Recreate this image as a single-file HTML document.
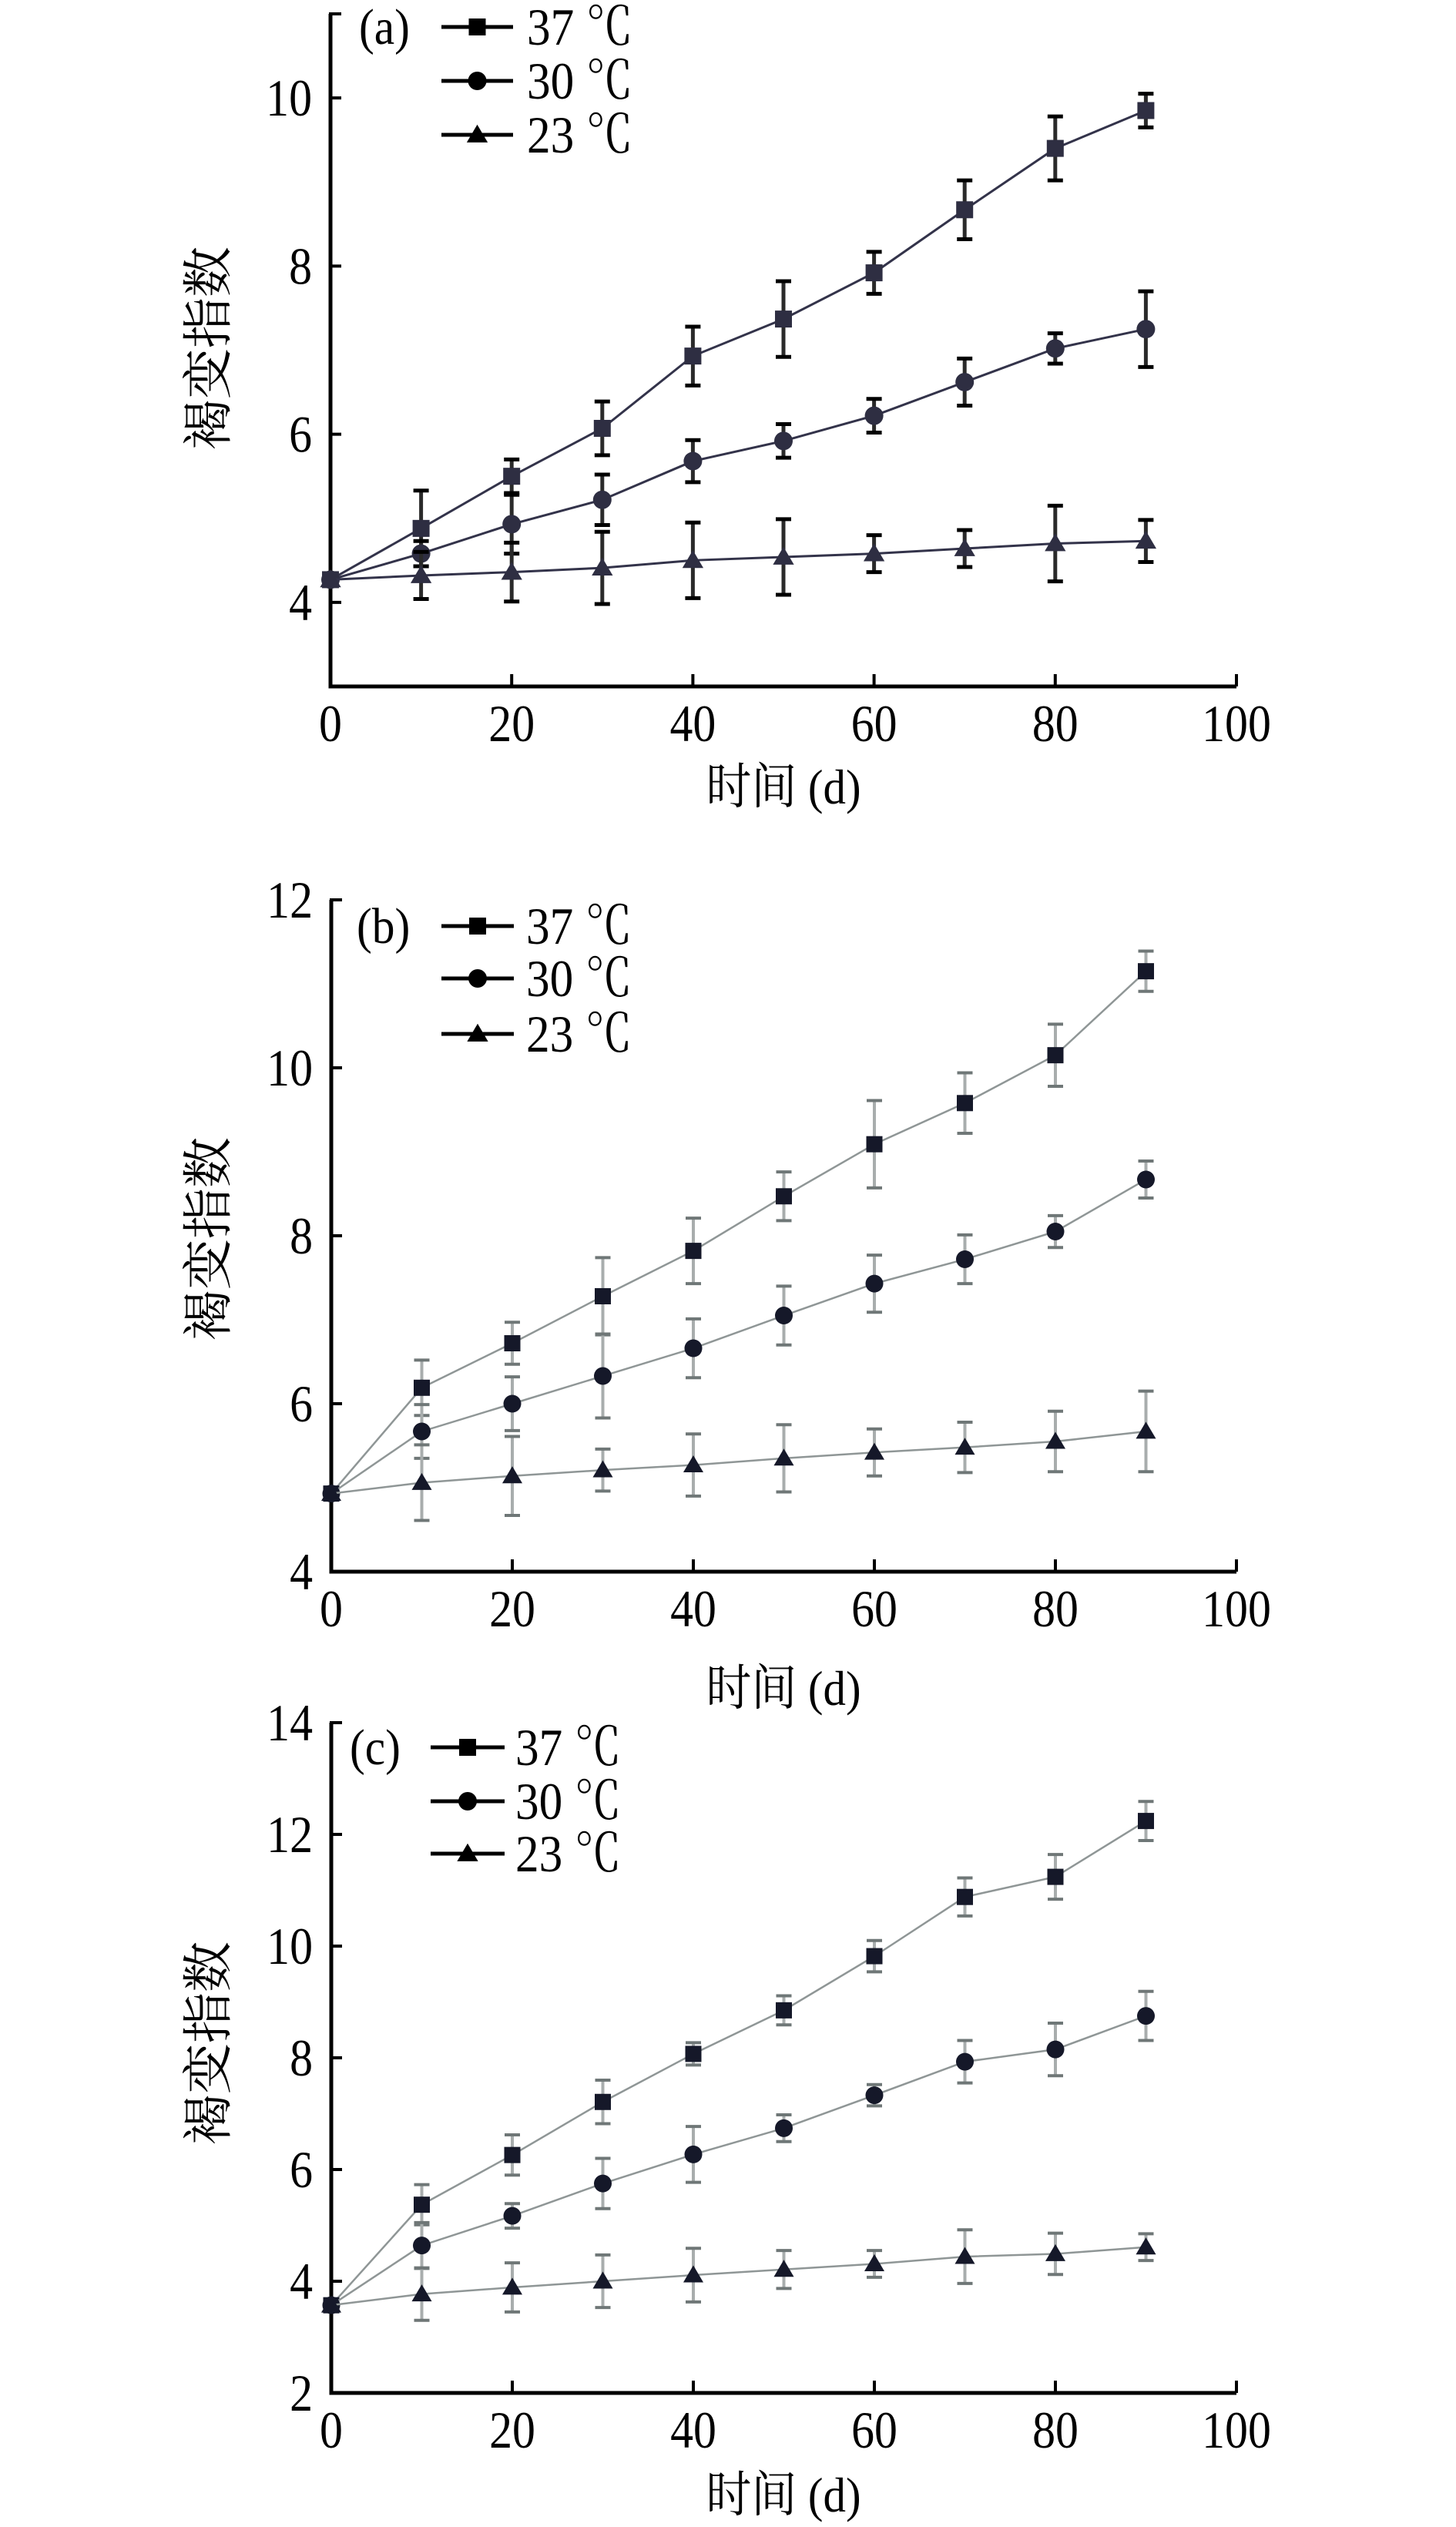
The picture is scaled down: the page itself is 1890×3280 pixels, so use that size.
<!DOCTYPE html>
<html><head><meta charset="utf-8">
<style>
html,body{margin:0;padding:0;background:#fff;}
svg{display:block;}
</style></head>
<body>
<svg id="fig" width="1890" height="3280" viewBox="0 0 1890 3280" xmlns="http://www.w3.org/2000/svg"></svg>
<script>
const days = [0,10,20,30,40,50,60,70,80,90];
const xTicks = [0,20,40,60,80,100];
// panel a
const a37 = [4.27,4.88,5.5,6.07,6.93,7.37,7.92,8.67,9.4,9.85];
const a37e = [0,0.45,0.2,0.32,0.35,0.45,0.25,0.35,0.38,0.2];
const a30 = [4.27,4.58,4.93,5.22,5.68,5.92,6.22,6.62,7.02,7.25];
const a30e = [0,0.15,0.35,0.3,0.25,0.2,0.2,0.28,0.18,0.45];
const a23 = [4.27,4.32,4.36,4.41,4.5,4.54,4.58,4.64,4.7,4.73];
const a23e = [0,0.28,0.35,0.43,0.45,0.45,0.22,0.22,0.45,0.25];
const aTicks = [4,6,8,10];
// panel b
const b37 = [4.93,6.19,6.72,7.28,7.82,8.47,9.09,9.58,10.15,11.15];
const b37e = [0,0.33,0.25,0.46,0.39,0.29,0.52,0.36,0.37,0.24];
const b30 = [4.93,5.67,6.0,6.33,6.66,7.05,7.43,7.72,8.05,8.67];
const b30e = [0,0.32,0.32,0.5,0.35,0.35,0.34,0.29,0.19,0.22];
const b23 = [4.93,5.06,5.14,5.21,5.27,5.35,5.42,5.48,5.55,5.67];
const b23e = [0,0.45,0.47,0.25,0.37,0.4,0.28,0.3,0.36,0.48];
const bTicks = [4,6,8,10,12];
// panel c
const c37 = [3.57,5.37,6.26,7.21,8.07,8.85,9.82,10.88,11.24,12.24];
const c37e = [0,0.36,0.36,0.39,0.2,0.26,0.28,0.34,0.4,0.35];
const c30 = [3.57,4.64,5.17,5.75,6.27,6.74,7.33,7.93,8.15,8.75];
const c30e = [0,0.41,0.22,0.45,0.5,0.24,0.19,0.38,0.47,0.44];
const c23 = [3.57,3.77,3.89,4.0,4.11,4.21,4.31,4.44,4.49,4.61];
const c23e = [0,0.47,0.44,0.47,0.48,0.34,0.24,0.48,0.37,0.24];
const cTicks = [2,4,6,8,10,12,14];
const legendLabels = ["37 ℃","30 ℃","23 ℃"];

const NS="http://www.w3.org/2000/svg";
const svg=document.getElementById('fig');
const FONT='"Liberation Serif","Noto Serif CJK SC",serif';
function mk(tag,attrs,parent){const e=document.createElementNS(NS,tag);for(const k in attrs)e.setAttribute(k,attrs[k]);(parent||svg).appendChild(e);return e;}
function txt(parent,x,y,str,size,anchor,sx){
  const t=mk('text',{x:0,y:0,'font-family':FONT,'font-size':size,'text-anchor':anchor||'start',fill:'#000',transform:`translate(${x},${y}) scale(${sx||1},1)`},parent);
  t.textContent=str;return t;
}

function marker(g,type,cx,cy,s,fill){
  if(type==='sq') return mk('rect',{x:cx-s/2,y:cy-s/2,width:s,height:s,fill:fill},g);
  if(type==='ci') return mk('circle',{cx:cx,cy:cy,r:s/2+1,fill:fill},g);
  return mk('polygon',{points:`${cx},${cy-s*0.6} ${cx-s*0.62},${cy+s*0.45} ${cx+s*0.62},${cy+s*0.45}`,fill:fill},g);
}

function panel(p){
  const g=mk('g',{});
  
  
  const X=v=>p.x0+(v-0)/(100-0)*(p.x1-p.x0);
  const Y=v=>p.yb+(v-p.ymin)/(p.ymax-p.ymin)*(p.yt-p.yb);
  const ax=mk('path',{d:`M${X(0)},${p.yt} V${p.yb} H${X(100)}`,fill:'none',stroke:'#000','stroke-width':5},g);
  
  
  p.yTicks.forEach(t=>{
    mk('line',{x1:X(0),x2:X(0)+14,y1:Y(t),y2:Y(t),stroke:'#000','stroke-width':4},g);
    const tx=txt(g,X(0)-24,Y(t)+23,String(t),68,'end',0.88);
    
    
  });
  mk('line',{x1:X(0)-2,x2:X(0)+14,y1:p.yt,y2:p.yt,stroke:'#000','stroke-width':4},g);
  xTicks.forEach(t=>{
    if(t>0) mk('line',{x1:X(t),x2:X(t),y1:p.yb,y2:p.yb-16,stroke:'#000','stroke-width':4},g);
    const tx=txt(g,X(t),p.yb+71,String(t),68,'middle',0.88);
    
    
  });
  const xt=txt(g,1017,p.xtY,'时间 (d)',64,'middle',0.92);
  
  
  const yt=mk('text',{x:0,y:0,'font-family':FONT,'font-size':66,'text-anchor':'middle',fill:'#000',transform:`translate(293,${p.ytY}) rotate(-90)`},g);
  yt.textContent='褐变指数';
  
  
  const types=['sq','ci','tr'];
  p.series.forEach((s,i)=>{
    const sg=mk('g',{},g);
    
    
    const d=days.map((dd,j)=>(j?'L':'M')+X(dd)+','+Y(s.v[j])).join(' ');
    mk('path',{d:d,fill:'none',stroke:p.lineC,'stroke-width':p.lineW},sg);
    days.forEach((dd,j)=>{
      if(s.e[j]>0){
        const yh=Y(s.v[j]+s.e[j]), yl=Y(s.v[j]-s.e[j]);
        mk('line',{x1:X(dd),x2:X(dd),y1:yh,y2:yl,stroke:p.errC,'stroke-width':p.errW},sg);
        mk('line',{x1:X(dd)-10,x2:X(dd)+10,y1:yh,y2:yh,stroke:p.capC,'stroke-width':p.errW},sg);
        mk('line',{x1:X(dd)-10,x2:X(dd)+10,y1:yl,y2:yl,stroke:p.capC,'stroke-width':p.errW},sg);
      }
    });
    days.forEach((dd,j)=>{
      const m=marker(sg,types[i],X(dd),Y(s.v[j]),p.ms,p.mC);
      
      
    });
  });
  const lt=txt(g,p.lg.lx,p.lg.rows[0]+22,'('+p.id+')',66,'start',0.9);
  
  
  p.lg.rows.forEach((ry,i)=>{
    const le=mk('g',{},g);
    
    
    mk('line',{x1:p.lg.l0,x2:p.lg.l1,y1:ry,y2:ry,stroke:'#000','stroke-width':5},le);
    marker(le,types[i],(p.lg.l0+p.lg.l1)/2,ry,22,'#000');
    txt(le,p.lg.tx,ry+23,legendLabels[i],68,'start',0.9);
  });
}

panel({id:'a',x0:429,x1:1605,yb:891,yt:18,ymin:3,ymax:11,yTicks:aTicks,xtY:1043,ytY:452,
  series:[{v:a37,e:a37e},{v:a30,e:a30e},{v:a23,e:a23e}],
  lineC:'#33334a',lineW:3,errC:'#2a2a2a',capC:'#000',errW:5,mC:'#2e2e42',ms:22,
  lg:{lx:466,l0:573,l1:666,tx:684,rows:[35,105,175]}});
panel({id:'b',x0:430,x1:1605,yb:2040,yt:1168,ymin:4,ymax:12,yTicks:bTicks,xtY:2213,ytY:1608,
  series:[{v:b37,e:b37e},{v:b30,e:b30e},{v:b23,e:b23e}],
  lineC:'#8f9696',lineW:2.5,errC:'#a8adad',capC:'#6f7777',errW:4,mC:'#151829',ms:21,
  lg:{lx:463,l0:573,l1:667,tx:683,rows:[1202,1270,1342]}});
panel({id:'c',x0:430,x1:1605,yb:3106,yt:2236,ymin:2,ymax:14,yTicks:cTicks,xtY:3260,ytY:2652,
  series:[{v:c37,e:c37e},{v:c30,e:c30e},{v:c23,e:c23e}],
  lineC:'#8f9696',lineW:2.5,errC:'#a8adad',capC:'#6f7777',errW:4,mC:'#151829',ms:21,
  lg:{lx:454,l0:559,l1:655,tx:669,rows:[2268,2338,2406]}});
</script>
</body></html>
